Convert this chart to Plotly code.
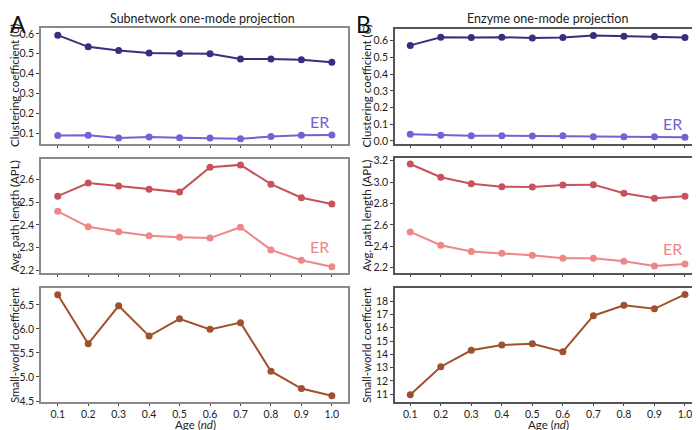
import plotly.graph_objects as go

# Age (nd)
age = [0.1, 0.2, 0.3, 0.4, 0.5, 0.6, 0.7, 0.8, 0.9, 1.0]

# A: Subnetwork one-mode projection
sub_clust = [0.594, 0.535, 0.516, 0.504, 0.501, 0.500, 0.474, 0.474, 0.470, 0.457]
sub_clust_er = [0.088, 0.089, 0.075, 0.080, 0.076, 0.075, 0.071, 0.083, 0.089, 0.090]
sub_apl = [2.527, 2.585, 2.572, 2.558, 2.545, 2.655, 2.665, 2.580, 2.520, 2.492]
sub_apl_er = [2.460, 2.392, 2.370, 2.352, 2.346, 2.342, 2.390, 2.290, 2.244, 2.216]
sub_sw = [6.71, 5.69, 6.48, 5.85, 6.21, 5.99, 6.13, 5.12, 4.76, 4.61]

# B: Enzyme one-mode projection
enz_clust = [0.572, 0.620, 0.619, 0.621, 0.616, 0.619, 0.631, 0.627, 0.625, 0.619]
enz_clust_er = [0.040, 0.035, 0.032, 0.031, 0.030, 0.031, 0.026, 0.025, 0.025, 0.023]
enz_apl = [3.169, 3.045, 2.985, 2.957, 2.954, 2.973, 2.976, 2.895, 2.849, 2.867]
enz_apl_er = [2.534, 2.410, 2.350, 2.335, 2.316, 2.288, 2.288, 2.260, 2.216, 2.235]
enz_sw = [10.97, 13.07, 14.30, 14.70, 14.80, 14.20, 16.90, 17.68, 17.42, 18.50]

x_ticks = [0.1, 0.2, 0.3, 0.4, 0.5, 0.6, 0.7, 0.8, 0.9, 1.0]

C_MAIN = "#3b2d7e"
C_ER = "#7561d4"
APL_MAIN = "#c8525c"
APL_ER = "#ee8789"
SW = "#a0502c"

FONT = "Lato"
TXT = "#222"

# the page body has an 8px margin, so the figure is drawn offset by that
OFF = 8
W, H = 700 - OFF, 430 - OFF


def fx(p):
    return (p - OFF) / W


def fy(p):
    return 1 - (p - OFF) / H


fig = go.Figure()

panels = [
    # (axis id, left, right, top, bottom, series, y ticks, y range, y title, frame, x labels)
    (1, 41, 348, 28, 144, [(sub_clust, C_MAIN), (sub_clust_er, C_ER)],
     [0.1, 0.2, 0.3, 0.4, 0.5, 0.6], [0.045, 0.63], "Clustering coefficient (<i>C</i>)", "#8a8a8a", False),
    (2, 41, 348, 159, 273, [(sub_apl, APL_MAIN), (sub_apl_er, APL_ER)],
     [2.2, 2.3, 2.4, 2.5, 2.6], [2.188, 2.691], "Avg. path length (APL)", "#8a8a8a", False),
    (3, 41, 348, 288, 402, [(sub_sw, SW)],
     [4.5, 5.0, 5.5, 6.0, 6.5], [4.48, 6.85], "Small-world coefficient", "#8a8a8a", True),
    (4, 395, 699, 29, 144, [(enz_clust, C_MAIN), (enz_clust_er, C_ER)],
     [0.0, 0.1, 0.2, 0.3, 0.4, 0.5, 0.6], [-0.018, 0.67], "Clustering coefficient (<i>C</i>)", "#555555", False),
    (5, 395, 699, 158, 273, [(enz_apl, APL_MAIN), (enz_apl_er, APL_ER)],
     [2.2, 2.4, 2.6, 2.8, 3.0, 3.2], [2.15, 3.225], "Avg. path length (APL)", "#555555", False),
    (6, 395, 699, 288, 402, [(enz_sw, SW)],
     [11, 12, 13, 14, 15, 16, 17, 18], [10.42, 18.98], "Small-world coefficient", "#555555", True),
]

layout = {}
annotations = []
for i, left, right, top, bottom, series, yt, yr, ytitle, frame, xlab in panels:
    sfx = "" if i == 1 else str(i)
    for vals, col in series:
        fig.add_trace(go.Scatter(
            x=age, y=vals, mode="lines+markers",
            line=dict(color=col, width=2),
            marker=dict(color=col, size=7),
            xaxis="x" + sfx, yaxis="y" + sfx,
            showlegend=False, hoverinfo="x+y",
        ))
    fmt = "d" if i == 6 else ".1f"
    layout["xaxis" + sfx] = dict(
        domain=[fx(left), fx(right)], anchor="y" + sfx,
        range=[0.045, 1.053] if i <= 3 else [0.05, 1.046],
        tickvals=x_ticks, tickformat=".1f", showticklabels=xlab,
        ticks="outside", ticklen=2, tickcolor="#444",
        showgrid=False, zeroline=False,
        showline=True, mirror=True, linecolor=frame, linewidth=1.5,
        tickfont=dict(size=10.5, color=TXT), automargin=False,
    )
    layout["yaxis" + sfx] = dict(
        domain=[fy(bottom), fy(top)], anchor="x" + sfx, range=yr,
        tickvals=yt, tickformat=fmt,
        ticks="outside", ticklen=3, tickcolor="#444",
        showgrid=False, zeroline=False,
        showline=True, mirror=True, linecolor=frame, linewidth=1.5,
        tickfont=dict(size=10.5, color=TXT), automargin=False,
    )
    # y axis title
    title_x = 14 if i <= 3 else 366
    annotations.append(dict(
        text=ytitle, textangle=-90, x=fx(title_x), y=fy((top + bottom) / 2),
        xref="paper", yref="paper", xanchor="center", yanchor="middle",
        font=dict(size=11.5, color=TXT)))
    if xlab:
        annotations.append(dict(
            text="Age (<i>nd</i>)", x=fx((left + right) / 2 + 1), y=fy(424),
            xref="paper", yref="paper", xanchor="center", yanchor="middle",
            font=dict(size=11.5, color=TXT)))

fig.update_layout(**layout)

annotations += [
    dict(text="A", x=fx(8), y=1, xref="paper", yref="paper", xanchor="left", yanchor="top",
         font=dict(size=23, color="#111")),
    dict(text="B", x=fx(354), y=1, xref="paper", yref="paper", xanchor="left",
         yanchor="top", font=dict(size=23, color="#111")),
    dict(text="Subnetwork one-mode projection", x=fx(202), y=fy(19),
         xref="paper", yref="paper", xanchor="center", yanchor="middle",
         font=dict(size=12.5, color=TXT)),
    dict(text="Enzyme one-mode projection", x=fx(547), y=fy(19),
         xref="paper", yref="paper", xanchor="center", yanchor="middle",
         font=dict(size=12.5, color=TXT)),
    dict(text="ER", x=0.96, y=0.16, xref="x", yref="y", font=dict(size=16, color=C_ER)),
    dict(text="ER", x=0.96, y=2.305, xref="x2", yref="y2", font=dict(size=16, color=APL_ER)),
    dict(text="ER", x=0.96, y=0.105, xref="x4", yref="y4", font=dict(size=16, color=C_ER)),
    dict(text="ER", x=0.96, y=2.38, xref="x5", yref="y5", font=dict(size=16, color=APL_ER)),
]
for a in annotations:
    a["showarrow"] = False

fig.update_layout(
    width=W, height=H,
    margin=dict(l=0, r=0, t=0, b=0),
    paper_bgcolor="white", plot_bgcolor="white",
    font=dict(family=FONT, color=TXT),
    annotations=annotations,
)

fig.write_html("out.html")
